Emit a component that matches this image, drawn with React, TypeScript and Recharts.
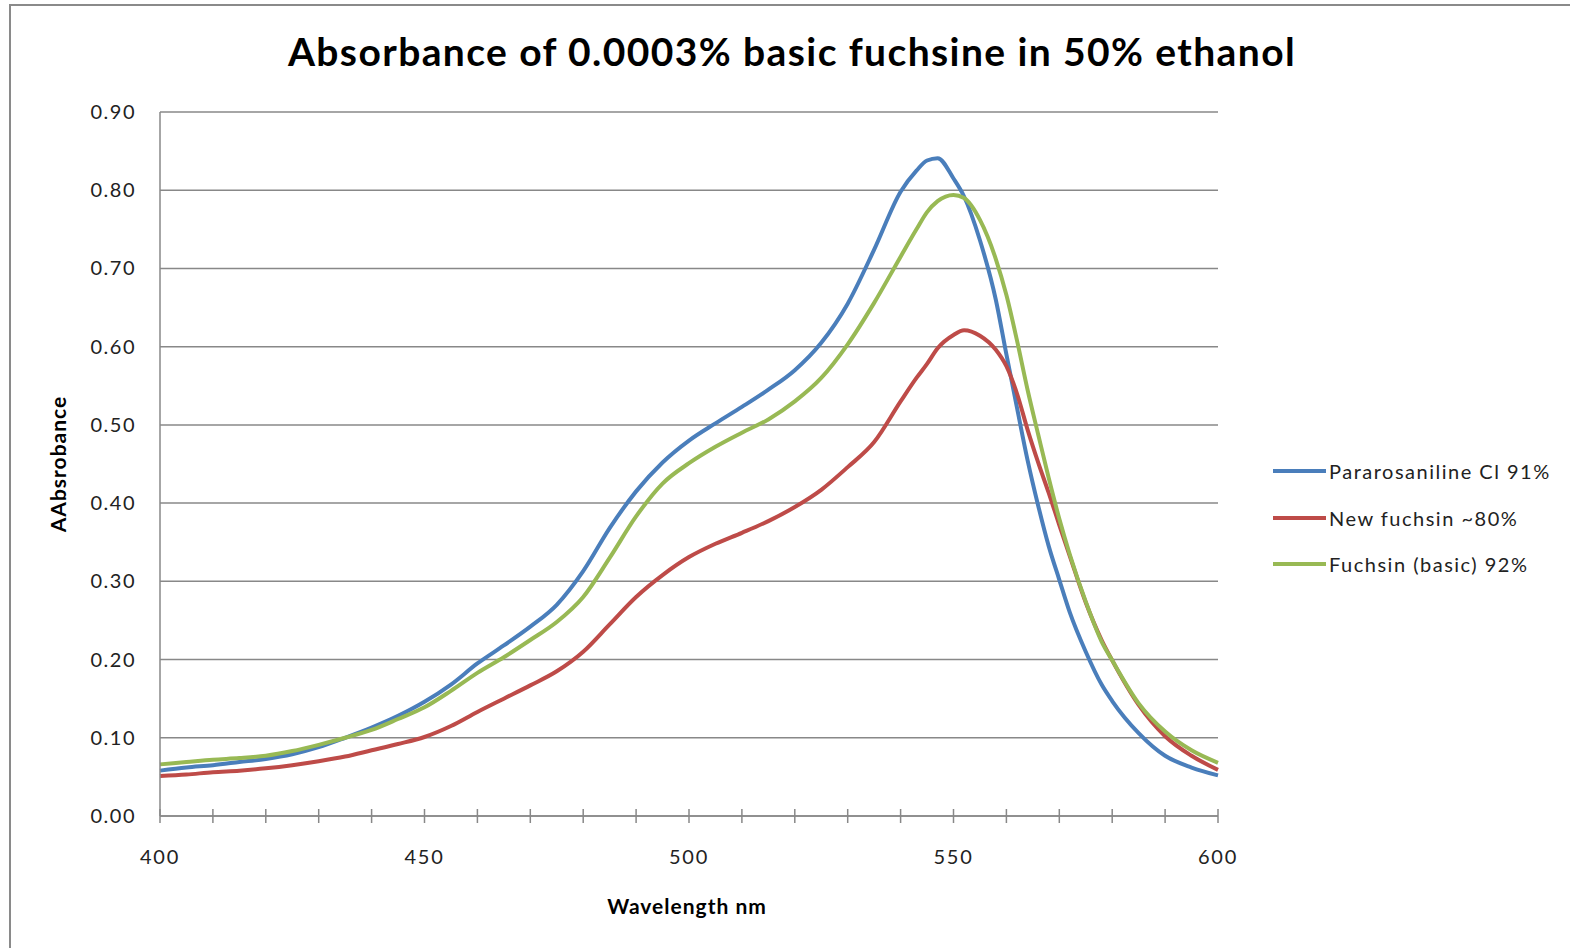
import React from "react";
import { LineChart, Line, XAxis, YAxis, CartesianGrid, Legend } from "recharts";

const wavelengths = [400, 405, 410, 415, 420, 425, 430, 435, 440, 445, 450, 455, 460, 465, 470, 475, 480, 485, 490, 495, 500, 505, 510, 515, 520, 525, 530, 535, 540, 543, 545, 547, 550, 552, 555, 558, 560, 562, 564, 566, 568, 570, 572, 575, 578, 580, 585, 590, 595, 600];

const pararosaniline = [0.058, 0.062, 0.065, 0.069, 0.073, 0.079, 0.088, 0.1, 0.113, 0.128, 0.146, 0.168, 0.195, 0.218, 0.242, 0.27, 0.313, 0.368, 0.415, 0.452, 0.48, 0.502, 0.523, 0.545, 0.57, 0.605, 0.655, 0.724, 0.798, 0.825, 0.838, 0.841, 0.815, 0.792, 0.736, 0.66, 0.59, 0.522, 0.455, 0.397, 0.345, 0.302, 0.26, 0.21, 0.168, 0.147, 0.106, 0.077, 0.062, 0.052];

const newFuchsin = [0.051, 0.053, 0.056, 0.058, 0.061, 0.065, 0.07, 0.076, 0.084, 0.092, 0.101, 0.115, 0.133, 0.15, 0.167, 0.185, 0.21, 0.245, 0.28, 0.308, 0.331, 0.348, 0.362, 0.377, 0.395, 0.417, 0.446, 0.478, 0.53, 0.56, 0.578, 0.598, 0.615, 0.621, 0.614, 0.596, 0.575, 0.54, 0.494, 0.452, 0.413, 0.372, 0.332, 0.273, 0.225, 0.199, 0.142, 0.102, 0.077, 0.059];

const fuchsinBasic = [0.066, 0.069, 0.072, 0.074, 0.077, 0.083, 0.091, 0.1, 0.11, 0.124, 0.139, 0.16, 0.183, 0.203, 0.225, 0.248, 0.28, 0.33, 0.383, 0.425, 0.451, 0.472, 0.49, 0.507, 0.53, 0.56, 0.603, 0.656, 0.715, 0.75, 0.772, 0.786, 0.794, 0.79, 0.762, 0.712, 0.666, 0.608, 0.545, 0.488, 0.432, 0.38, 0.334, 0.274, 0.223, 0.199, 0.144, 0.108, 0.084, 0.068];

const xTicks = [400, 410, 420, 430, 440, 450, 460, 470, 480, 490, 500, 510, 520, 530, 540, 550, 560, 570, 580, 590, 600];
const xLabelTicks = [400, 450, 500, 550, 600];
const yTicks = [0, 0.1, 0.2, 0.3, 0.4, 0.5, 0.6, 0.7, 0.8, 0.9];

const seriesNames = ["Pararosaniline Cl 91%", "New fuchsin ~80%", "Fuchsin (basic) 92%"];
const seriesColors = ["#4A7EBB", "#BE4B48", "#98B954"];

const data = wavelengths.map((wl, i) => ({
  wl,
  a: pararosaniline[i],
  b: newFuchsin[i],
  c: fuchsinBasic[i],
}));

const FONT = "Lato, 'Open Sans', sans-serif";
const GRAY = "#888888";
const TEXT = "#222222";

const XTick = (props: any) => {
  const { x, y, payload } = props;
  const v = payload.value;
  return (
    <g>
      <line x1={x} x2={x} y1={y - 7} y2={y + 7} stroke={GRAY} strokeWidth={1.5} />
      {xLabelTicks.includes(v) && (
        <text x={x} y={y + 48} textAnchor="middle" fontFamily={FONT} fontSize={20} letterSpacing={1.8} fill={TEXT}>
          {v}
        </text>
      )}
    </g>
  );
};

const YTick = (props: any) => {
  const { x, y, payload } = props;
  return (
    <text x={x - 24} y={y + 7} textAnchor="end" fontFamily={FONT} fontSize={20} letterSpacing={1.5} fill={TEXT}>
      {Number(payload.value).toFixed(2)}
    </text>
  );
};

const LegendContent = (props: any) => {
  const payload = [...(props.payload || [])].sort(
    (p: any, q: any) => seriesNames.indexOf(p.value) - seriesNames.indexOf(q.value)
  );
  return (
    <div style={{ fontFamily: FONT }}>
      {payload.map((entry: any, i: number) => (
        <div key={i} style={{ display: "flex", alignItems: "center", height: 46.5 }}>
          <svg width={56} height={8} style={{ display: "block" }}>
            <line x1={0} x2={53} y1={4} y2={4} stroke={entry.color} strokeWidth={4} />
          </svg>
          <span style={{ fontSize: 20, letterSpacing: 1.5, color: TEXT, whiteSpace: "nowrap" }}>{entry.value}</span>
        </div>
      ))}
    </div>
  );
};

export default function App() {
  return (
    <div style={{ position: "fixed", left: 0, top: 0, right: 0, bottom: 0, overflow: "hidden", background: "#fff" }}>
      <div
        style={{
          position: "absolute",
          left: 9,
          top: 4,
          width: 1700,
          height: 1100,
          borderLeft: "2px solid #8a8a8a",
          borderTop: "2px solid #8a8a8a",
        }}
      />
      <div style={{ position: "absolute", left: 0, top: 0 }}>
        <LineChart width={1570} height={948} data={data} margin={{ top: 112, right: 352, bottom: 102, left: 100 }}>
          <CartesianGrid vertical={false} stroke={GRAY} strokeWidth={1.5} />
          <XAxis
            dataKey="wl"
            type="number"
            domain={[400, 600]}
            ticks={xTicks}
            interval={0}
            height={30}
            tickSize={0}
            tickMargin={0}
            tickLine={false}
            axisLine={{ stroke: GRAY, strokeWidth: 1.5 }}
            tick={<XTick />}
          />
          <YAxis
            type="number"
            domain={[0, 0.9]}
            ticks={yTicks}
            interval={0}
            width={60}
            tickSize={0}
            tickMargin={0}
            tickLine={false}
            axisLine={{ stroke: GRAY, strokeWidth: 1.5 }}
            tick={<YTick />}
          />
          <Legend
            layout="vertical"
            align="center"
            verticalAlign="middle"
            wrapperStyle={{ left: 1273, top: 448, width: 295 }}
            content={<LegendContent />}
          />
          <Line type="monotone" dataKey="a" name={seriesNames[0]} stroke={seriesColors[0]} strokeWidth={4} dot={false} isAnimationActive={false} />
          <Line type="monotone" dataKey="b" name={seriesNames[1]} stroke={seriesColors[1]} strokeWidth={4} dot={false} isAnimationActive={false} />
          <Line type="monotone" dataKey="c" name={seriesNames[2]} stroke={seriesColors[2]} strokeWidth={4} dot={false} isAnimationActive={false} />
        </LineChart>
      </div>
      <svg width={1570} height={948} style={{ position: "absolute", left: 0, top: 0, pointerEvents: "none" }}>
        <text x={792} y={66} textAnchor="middle" fontFamily={FONT} fontWeight={700} fontSize={39} letterSpacing={1.4} fill="#000">
          Absorbance of 0.0003% basic fuchsine in 50% ethanol
        </text>
        <text x={687} y={914} textAnchor="middle" fontFamily={FONT} fontWeight={700} fontSize={21} letterSpacing={1} fill="#000">
          Wavelength nm
        </text>
        <text transform="translate(66,464) rotate(-90)" textAnchor="middle" fontFamily={FONT} fontWeight={700} fontSize={21} letterSpacing={1} fill="#000">
          AAbsrobance
        </text>
      </svg>
    </div>
  );
}
